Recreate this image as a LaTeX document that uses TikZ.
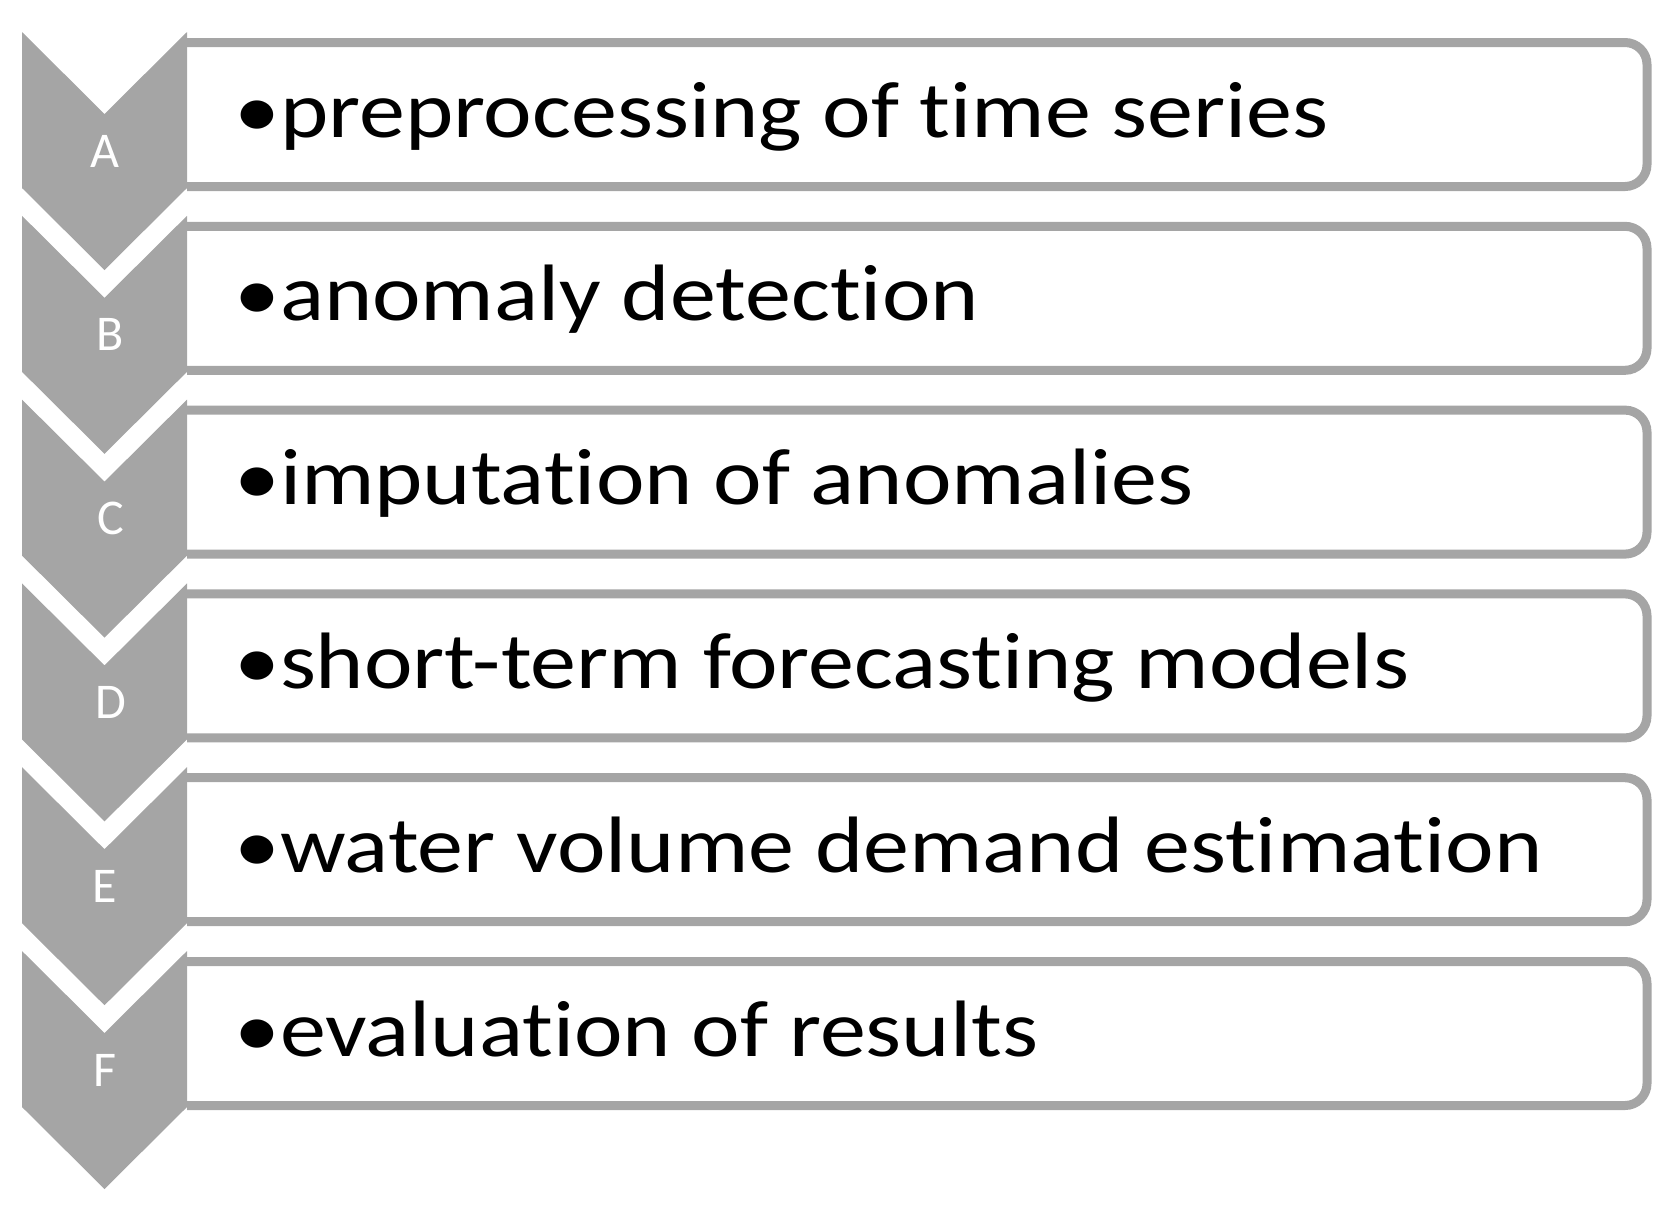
\documentclass[tikz,border=0pt]{standalone}
\usepackage{fontspec}
\setmainfont{Carlito}
\newfontfamily\itemfont{Carlito}[FakeStretch=1.15,RawFeature=-liga]
\definecolor{sagray}{HTML}{A5A5A5}
\tikzset{
  chev/.style={fill=sagray,draw=none},
  itembox/.style={draw=sagray,line width=9pt,rounded corners=22pt},
  letter/.style={text=white,font=\fontsize{50}{56}\selectfont,anchor=base,inner sep=0pt},
  itemtext/.style={text=black,font=\itemfont\fontsize{80}{90}\selectfont,anchor=base west,inner sep=0pt}
}
\begin{document}
\begin{tikzpicture}[x=1pt,y=-1pt]
\useasboundingbox (0,0) rectangle (1672,1211);
\def\pitch{183.8}
\foreach \k/\L/\dx/\T in {0/A/0/preprocessing of time series,1/B/6/anomaly detection,2/C/6/imputation of anomalies,3/D/6/short-term forecasting models,4/E/0/water volume demand estimation,5/F/0/evaluation of results}{
  \pgfmathsetmacro{\yt}{32+\pitch*\k}
  \draw[itembox] (187,\yt+10.5) -- (1647,\yt+10.5) -- (1647,\yt+154.5) -- (187,\yt+154.5);
  \fill[chev] (22,\yt) -- (104.5,\yt+82) -- (187,\yt) -- (187,\yt+156) -- (104.5,\yt+238) -- (22,\yt+156) -- cycle;
  \node[letter] (lab\L) at (104.5+\dx,\yt+135) {\L};
  \node[itemtext] (txt\L) at (234,\yt+105) {•\T};
}
\end{tikzpicture}
\end{document}
